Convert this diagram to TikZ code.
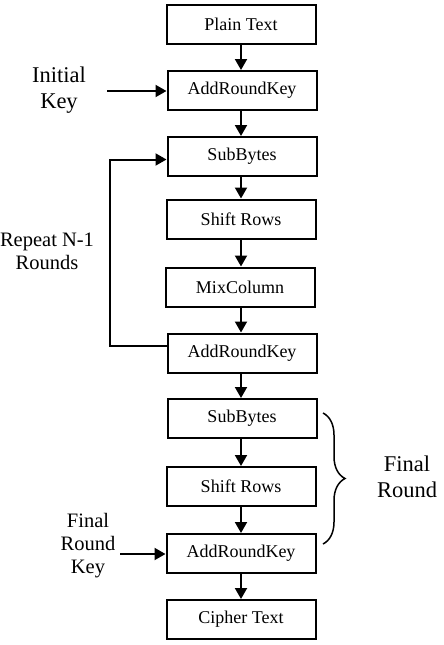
\documentclass[tikz,border=0pt]{standalone}
\usepackage{fontspec}
\setmainfont{Liberation Serif}
\usetikzlibrary{arrows.meta,decorations.pathreplacing}
\begin{document}
\begin{tikzpicture}[x=1pt,y=-1pt,
  stepbox/.style={draw,line width=2pt,minimum width=149pt,minimum height=39pt,inner sep=0pt,font=\fontsize{18}{20}\selectfont},
  lbl/.style={align=center,inner sep=0pt},
  arr/.style={line width=2pt,-{Triangle[length=11pt,width=12pt]}},
  plain/.style={line width=2pt}]
\useasboundingbox (0,0) rectangle (444,645);
\node[stepbox] (pt)  at (241,24.5)  {Plain Text};
\node[stepbox] (ar1) at (242,90.5)  {AddRoundKey};
\node[stepbox] (sb1) at (242,156.5) {SubBytes};
\node[stepbox] (sr1) at (241,219)   {Shift Rows};
\node[stepbox] (mc)  at (240,287)   {MixColumn};
\node[stepbox] (ar2) at (242,353)   {AddRoundKey};
\node[stepbox] (sb2) at (242,418.5) {SubBytes};
\node[stepbox] (sr2) at (241,486.5) {Shift Rows};
\node[stepbox] (ar3) at (241,553.5) {AddRoundKey};
\node[stepbox] (ct)  at (241,619.5) {Cipher Text};
\foreach \a/\b in {pt/ar1,ar1/sb1,sb1/sr1,sr1/mc,mc/ar2,ar2/sb2,sb2/sr2,sr2/ar3,ar3/ct}
  \draw[arr] (\a.south -| 241,0) -- (\b.north -| 241,0);
% labels
\node[lbl,font=\fontsize{22.5}{26}\selectfont] (ik) at (59,90) {Initial\\Key};
\node[lbl,font=\fontsize{20.5}{23}\selectfont] (rep) at (47,251) {Repeat N-1\\Rounds};
\node[lbl,font=\fontsize{22.5}{26}\selectfont] (fr) at (407,477) {Final\\Round};
\node[lbl,font=\fontsize{20.5}{23}\selectfont] (frk) at (88,546) {Final\\Round\\Key};
% key arrows
\coordinate (iks) at (107,91);
\draw[arr] (iks) -- (iks -| ar1.west);
\coordinate (frks) at (120,554);
\draw[arr] (frks) -- (frks -| ar3.west);
% loop
\coordinate (loopx) at (110,0);
\draw[arr] ([yshift=7pt]ar2.west) -- ([yshift=7pt]ar2.west -| loopx) |- ([yshift=-3pt]sb1.west);
% brace
\coordinate (bt) at (323,413);
\coordinate (bb) at (323,544);
\draw[line width=1.5pt,decorate,decoration={brace,amplitude=22pt}] (bt) -- (bb);
\end{tikzpicture}
\end{document}
